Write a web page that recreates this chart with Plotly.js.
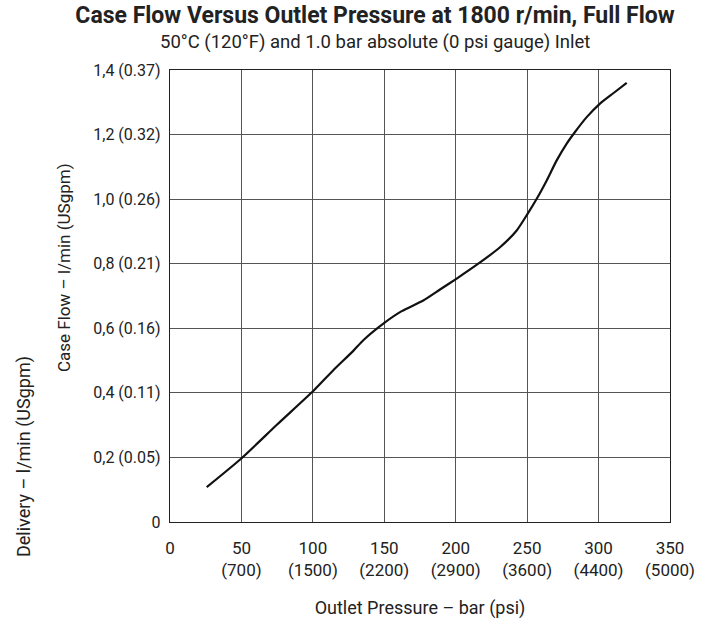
<!DOCTYPE html>
<html><head><meta charset="utf-8">
<script src="https://cdn.plot.ly/plotly-3.0.1.min.js"></script>
<style>html,body{margin:0;padding:0;background:#fff}</style>
</head><body>
<div id="chart" style="width:711px;height:624px"></div>
<script>
// Data
const pressureBar = [25.7, 49.7, 75, 100.8, 114.3, 128.3, 135.3, 149.8, 162.2, 177.3, 189, 200.7, 215.8, 231, 242.7, 250.4, 256.7, 263.7, 270.7, 277.7, 283.5, 291.7, 301, 310.3, 319.7];
const caseFlow    = [0.108, 0.196, 0.302, 0.408, 0.47, 0.53, 0.563, 0.616, 0.653, 0.686, 0.72, 0.754, 0.80, 0.851, 0.903, 0.955, 1.001, 1.058, 1.12, 1.172, 1.208, 1.254, 1.296, 1.328, 1.36];

const xTickVals = [0, 50, 100, 150, 200, 250, 300, 350];
const xTickText = ['0', '50<br>(700)', '100<br>(1500)', '150<br>(2200)', '200<br>(2900)', '250<br>(3600)', '300<br>(4400)', '350<br>(5000)'];
const yTickVals = [0, 0.2, 0.4, 0.6, 0.8, 1.0, 1.2, 1.4];
const yTickText = ['0', '0,2 (0.05)', '0,4 (0.11)', '0,6 (0.16)', '0,8 (0.21)', '1,0 (0.26)', '1,2 (0.32)', '1,4 (0.37)'];

const FONT = 'Roboto, "Liberation Sans", sans-serif';
const INK = '#222';

const trace = {
  x: pressureBar, y: caseFlow, type: 'scatter', mode: 'lines',
  line: {color: '#111', width: 2.2, shape: 'spline', smoothing: 0.6},
  hoverinfo: 'skip'
};

const layout = {
  width: 711, height: 624,
  margin: {l: 170, r: 41, t: 70, b: 102, pad: 0},
  paper_bgcolor: '#fff', plot_bgcolor: '#fff',
  showlegend: false,
  font: {family: FONT, color: INK, size: 17},
  title: {
    text: '<b>Case Flow Versus Outlet Pressure at 1800 r/min, Full Flow</b>',
    font: {family: FONT, size: 23, color: INK},
    x: 375/711, xanchor: 'center', xref: 'container',
    y: 1 - 15/624, yanchor: 'middle', yref: 'container'
  },
  xaxis: {
    range: [0, 350], tickmode: 'array', tickvals: xTickVals, ticktext: xTickText,
    showgrid: true, gridcolor: '#555', gridwidth: 1.2,
    showline: true, linecolor: INK, linewidth: 1.2, mirror: true,
    zeroline: false, ticks: '', fixedrange: true, ticklabelstandoff: 10,
    tickfont: {family: FONT, size: 17, color: INK},
    title: {text: 'Outlet Pressure – bar (psi)', font: {family: FONT, size: 18, color: INK}, standoff: 22}
  },
  yaxis: {
    range: [0, 1.4], tickmode: 'array', tickvals: yTickVals, ticktext: yTickText,
    showgrid: true, gridcolor: '#555', gridwidth: 1.2,
    showline: true, linecolor: INK, linewidth: 1.2, mirror: true,
    zeroline: false, ticks: '', fixedrange: true, ticklabelstandoff: 5,
    tickfont: {family: FONT, size: 16, color: INK}
  },
  annotations: [
    {text: '50°C (120°F) and 1.0 bar absolute (0 psi gauge) Inlet', xref: 'paper', yref: 'paper',
     x: (375-170)/500, y: 1 + (70-42)/452, xanchor: 'center', yanchor: 'middle', showarrow: false,
     font: {family: FONT, size: 18.5, color: INK}},
    {text: 'Case Flow – l/min (USgpm)', xref: 'paper', yref: 'paper', textangle: -90,
     x: (64-170)/500, y: (522-268)/452, xanchor: 'center', yanchor: 'middle', showarrow: false,
     font: {family: FONT, size: 17, color: INK}},
    {text: 'Delivery – l/min (USgpm)', xref: 'paper', yref: 'paper', textangle: -90,
     x: (24-170)/500, y: (522-457)/452, xanchor: 'center', yanchor: 'middle', showarrow: false,
     font: {family: FONT, size: 18, color: INK}}
  ]
};

Plotly.newPlot('chart', [trace], layout, {staticPlot: true, displayModeBar: false});
</script>
</body></html>
